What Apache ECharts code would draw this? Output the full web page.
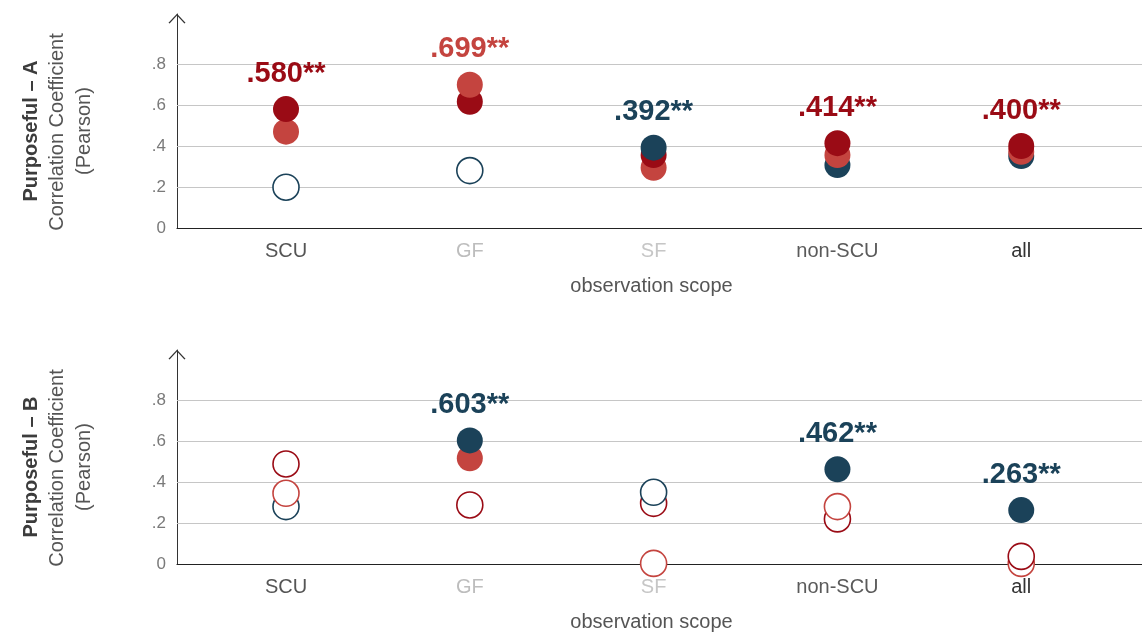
<!DOCTYPE html>
<html>
<head>
<meta charset="utf-8">
<script src="https://cdn.jsdelivr.net/npm/echarts@6/dist/echarts.min.js"></script>
<style>
  html, body { margin: 0; padding: 0; background: #ffffff; }
  #chart { width: 1142px; height: 635px; }
</style>
</head>
<body>
<div id="chart"></div>
<script>
// Observation scopes along the horizontal axis
const categories = ['SCU', 'GF', 'SF', 'non-SCU', 'all'];
const categoryColors = ['#555555', '#bdbdbd', '#c6c6c6', '#5a5a5a', '#333333'];
const yTicks = [0, 0.2, 0.4, 0.6, 0.8];

// Purposeful – A: correlation coefficients per scope
const aDarkRed  = [0.580, 0.616, 0.356, 0.414, 0.400];
const aLightRed = [0.470, 0.699, 0.294, 0.356, 0.372];
const aBlue     = [0.199, 0.280, 0.392, 0.307, 0.351];
// significant (filled) or not (hollow)
const aDarkRedSig  = [true, true, true, true, true];
const aLightRedSig = [true, true, true, true, true];
const aBlueSig     = [false, false, true, true, true];

// Purposeful – B: correlation coefficients per scope
const bDarkRed  = [0.488, 0.288, 0.296, 0.220, 0.037];
const bLightRed = [0.345, 0.516, 0.003, 0.280, 0.003];
const bBlue     = [0.280, 0.603, 0.350, 0.462, 0.263];
const bDarkRedSig  = [false, false, false, false, false];
const bLightRedSig = [false, true, false, false, false];
const bBlueSig     = [false, true, false, true, true];

const DARK_RED = '#9a0b15';
const LIGHT_RED = '#c4443f';
const BLUE = '#1b4259';
const FONT = '"Liberation Sans", Arial, sans-serif';

function fmtCoef(v) {
  return v.toFixed(3).replace(/^0/, '');
}

// Builds the point list for one panel: within a scope, higher values sit on top,
// and the highest significant value carries its coefficient label.
function buildPoints(groups) {
  const out = [];
  categories.forEach((c, k) => {
    const pts = groups.map(g => ({ v: g.values[k], sig: g.sig[k], color: g.color }));
    pts.sort((p, q) => p.v - q.v);
    const top = pts[pts.length - 1];
    pts.forEach(p => {
      const labeled = p === top && p.sig;
      out.push({
        value: [k, p.v],
        itemStyle: {
          color: p.sig ? p.color : '#ffffff',
          borderColor: p.color,
          borderWidth: p.sig ? 0 : 1.6,
          opacity: 1
        },
        label: {
          show: labeled,
          formatter: fmtCoef(p.v) + '**',
          color: p.color
        }
      });
    });
  });
  return out;
}

const pointsA = buildPoints([
  { values: aDarkRed, sig: aDarkRedSig, color: DARK_RED },
  { values: aLightRed, sig: aLightRedSig, color: LIGHT_RED },
  { values: aBlue, sig: aBlueSig, color: BLUE }
]);
const pointsB = buildPoints([
  { values: bDarkRed, sig: bDarkRedSig, color: DARK_RED },
  { values: bLightRed, sig: bLightRedSig, color: LIGHT_RED },
  { values: bBlue, sig: bBlueSig, color: BLUE }
]);

const ARROW = 'path://M0,9 L8.5,0 L17,9 L15.9,9.6 L8.5,1.7 L1.1,9.6 Z';

function xAxisFor(gridIndex) {
  return {
    type: 'value',
    gridIndex: gridIndex,
    min: -0.593,
    max: 4.657,
    name: 'observation scope',
    nameLocation: 'middle',
    nameGap: 48,
    nameTextStyle: { fontSize: 20, color: '#555555', fontFamily: FONT, padding: [0, 16, 0, 0] },
    axisLine: { show: true, onZero: false, lineStyle: { color: '#222222', width: 1.2 } },
    axisTick: { show: false },
    splitLine: { show: false },
    axisLabel: {
      customValues: [0, 1, 2, 3, 4],
      margin: 13,
      fontSize: 20,
      fontFamily: FONT,
      formatter: v => '{c' + v + '|' + categories[v] + '}',
      rich: Object.fromEntries(categoryColors.map((col, i) => ['c' + i, { color: col, fontSize: 20, fontFamily: FONT }]))
    }
  };
}

function yAxisFor(gridIndex) {
  return {
    type: 'value',
    gridIndex: gridIndex,
    min: 0,
    max: 1.044,
    axisLine: {
      show: true,
      onZero: false,
      lineStyle: { color: '#333333', width: 1 },
      symbol: ['none', ARROW],
      symbolSize: [17, 9.6],
      symbolOffset: [0, -4.6]
    },
    axisTick: { show: false },
    splitLine: { show: false },
    axisLabel: {
      customValues: yTicks,
      margin: 11,
      fontSize: 17,
      color: '#7a7a7a',
      fontFamily: FONT,
      formatter: v => (v === 0 ? '0' : v.toFixed(1).replace(/^0/, ''))
    }
  };
}

// Horizontal guide lines, kept beneath the markers
function gridLinesSeries(idx) {
  return {
    type: 'line',
    xAxisIndex: idx,
    yAxisIndex: idx,
    data: [],
    z: 1,
    silent: true,
    markLine: {
      z: 1,
      silent: true,
      symbol: 'none',
      label: { show: false },
      lineStyle: { color: '#c6c6c6', width: 1.2, type: 'solid' },
      data: yTicks.filter(v => v > 0).map(v => ({ yAxis: v }))
    }
  };
}

function scatterSeries(idx, points) {
  return {
    type: 'scatter',
    xAxisIndex: idx,
    yAxisIndex: idx,
    z: 6,
    symbol: 'circle',
    symbolSize: 26,
    itemStyle: { opacity: 1 },
    emphasis: { disabled: true },
    label: {
      position: 'top',
      distance: 8,
      fontSize: 29,
      fontWeight: 'bold',
      fontFamily: FONT
    },
    data: points
  };
}

function sideTitle(cy, panel) {
  return [
    { type: 'text', x: 31, y: cy, rotation: Math.PI / 2,
      style: { text: 'Purposeful – ' + panel, fontSize: 20, fontWeight: 'bold', fontFamily: FONT,
               fill: '#3c3c3c', align: 'center', verticalAlign: 'middle' } },
    { type: 'text', x: 57, y: cy + 1, rotation: Math.PI / 2,
      style: { text: 'Correlation Coefficient', fontSize: 20, fontFamily: FONT,
               fill: '#555555', align: 'center', verticalAlign: 'middle' } },
    { type: 'text', x: 84, y: cy, rotation: Math.PI / 2,
      style: { text: '(Pearson)', fontSize: 20, fontFamily: FONT,
               fill: '#555555', align: 'center', verticalAlign: 'middle' } }
  ];
}

const chart = echarts.init(document.getElementById('chart'), null, { renderer: 'canvas' });
chart.setOption({
  animation: false,
  backgroundColor: '#ffffff',
  textStyle: { fontFamily: FONT },
  grid: [
    { left: 177, right: 0, top: 14, height: 214 },
    { left: 177, right: 0, top: 350, height: 214 }
  ],
  xAxis: [xAxisFor(0), xAxisFor(1)],
  yAxis: [yAxisFor(0), yAxisFor(1)],
  graphic: sideTitle(131, 'A').concat(sideTitle(467, 'B')),
  series: [
    gridLinesSeries(0),
    gridLinesSeries(1),
    scatterSeries(0, pointsA),
    scatterSeries(1, pointsB)
  ]
});
</script>
</body>
</html>
